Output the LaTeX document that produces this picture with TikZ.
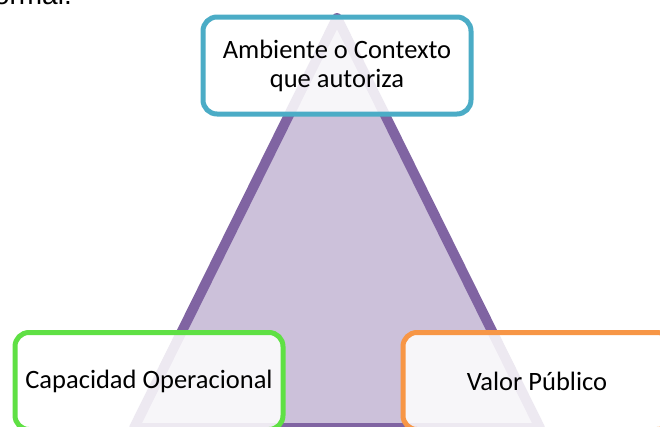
\documentclass[tikz,border=0pt]{standalone}
\usepackage{fontspec}
\setmainfont{Carlito}
\newfontfamily\slidefont{Liberation Sans}
\usetikzlibrary{positioning}
\definecolor{triline}{HTML}{8064A2}
\definecolor{trifill}{HTML}{CCC1DA}
\definecolor{boxblue}{HTML}{4BACC6}
\definecolor{boxgreen}{HTML}{5FE044}
\definecolor{boxorange}{HTML}{F79646}
\tikzstyle{cbox}=[rectangle, rounded corners=14pt, line width=5pt, fill=white,
                  fill opacity=0.86, text opacity=1, draw opacity=1,
                  minimum width=268pt, minimum height=97pt, inner sep=2pt,
                  align=center, font=\fontsize{26.5}{29}\selectfont]
\tikzstyle{tline}=[draw=triline, fill=trifill, line width=10pt, line join=round]

\begin{document}
\begin{tikzpicture}[x=1pt, y=-1pt]
\useasboundingbox (0,0) rectangle (660,426);

\node (FRAG) [anchor=base east, inner sep=0pt,
 font=\slidefont\fontsize{28}{30}\selectfont] at (72,4.5) {ormal.};

\coordinate (TOP) at (337,18);
\coordinate (BL) at (134,428);
\coordinate (BR) at (540,428);
 \draw[tline] (TOP) -- (BR) -- (BL) -- cycle;

\node (AMBIENTE) [cbox, draw=boxblue] at (337,65.5) {Ambiente o Contexto\\que autoriza};
\node (CAPACIDAD) [cbox, draw=boxgreen] at (149,381) {Capacidad Operacional};
\node (VALOR) [cbox, draw=boxorange, right=115pt of CAPACIDAD] {Valor P\'ublico};

\end{tikzpicture}
\end{document}
